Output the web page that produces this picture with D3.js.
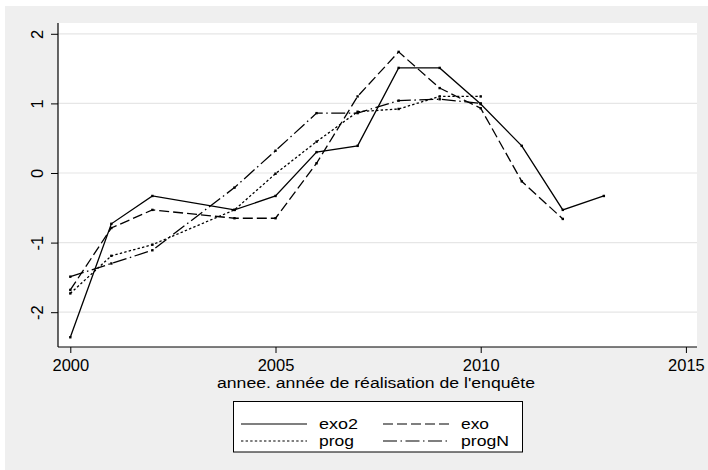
<!DOCTYPE html>
<html>
<head>
<meta charset="utf-8">
<script src="https://cdn.jsdelivr.net/npm/d3@7"></script>
<style>
    body { margin: 0; background: #fff; }
    text { font-family: "Liberation Sans", Arial, sans-serif; fill: #000; }
</style>
</head>
<body>
<div id="chart"></div>
<script>
// data (no value for 2003)
var years = [2000, 2001, 2002, 2004, 2005, 2006, 2007, 2008, 2009, 2010, 2011, 2012, 2013];
var exo2 = [-2.36, -0.73, -0.33, -0.53, -0.33, 0.30, 0.39, 1.51, 1.51, 0.99, 0.39, -0.53, -0.33];
var exo = [-1.68, -0.79, -0.53, -0.65, -0.65, 0.14, 1.10, 1.74, 1.22, 0.93, -0.12, -0.66, null];
var prog = [-1.73, -1.19, -1.03, -0.53, -0.01, 0.45, 0.88, 0.92, 1.10, 1.10, null, null, null];
var progN = [-1.49, -1.30, -1.11, -0.21, 0.32, 0.86, 0.86, 1.04, 1.06, 1.00, null, null, null];

var xTicks = [2000, 2005, 2010, 2015];
var yTicks = [-2, -1, 0, 1, 2];
var xTitle = "annee. année de réalisation de l'enquête";

var series = [
    {name: "exo2", values: exo2, dash: null},
    {name: "exo", values: exo, dash: "10,4"},
    {name: "prog", values: prog, dash: "2.4,2.2"},
    {name: "progN", values: progN, dash: "14,3.5,1.5,3.5"}
];

var W = 708, H = 470;
var plot = {left: 58, right: 697, top: 23, bottom: 347};

var svg = d3.select("#chart").append("svg")
    .attr("width", W)
    .attr("height", H);

// outer gray region
svg.append("rect")
    .attr("x", 5).attr("y", 6)
    .attr("width", W - 5).attr("height", H - 6)
    .attr("fill", "#efefef");

svg.append("rect")
    .attr("x", plot.left).attr("y", plot.top)
    .attr("width", plot.right - plot.left).attr("height", plot.bottom - plot.top)
    .attr("fill", "#fff");

var x = d3.scaleLinear().domain([1999.7, 2015.27]).range([plot.left, plot.right]);
var y = d3.scaleLinear().domain([-2.5, 2.155]).range([plot.bottom, plot.top]);

// gridlines
svg.append("g")
    .selectAll("line")
    .data(yTicks)
    .enter().append("line")
    .attr("x1", plot.left).attr("x2", plot.right)
    .attr("y1", function (d) { return y(d); })
    .attr("y2", function (d) { return y(d); })
    .attr("stroke", "#e6e6e6")
    .attr("stroke-width", 1.2);

// axes
var xAxis = svg.append("g")
    .attr("transform", "translate(0," + plot.bottom + ")")
    .call(d3.axisBottom(x).tickValues(xTicks).tickSize(6).tickPadding(6.5).tickFormat(d3.format("d")));
var yAxis = svg.append("g")
    .attr("transform", "translate(" + plot.left + ",0)")
    .call(d3.axisLeft(y).tickValues(yTicks).tickSize(7).tickPadding(0).tickFormat(function (d) { return d; }));

[xAxis, yAxis].forEach(function (a) {
    a.select(".domain").attr("stroke", "#000").attr("stroke-width", 1.2);
    a.selectAll(".tick line").attr("stroke", "#000");
    a.selectAll("text")
        .style("font-family", "'Liberation Sans', Arial, sans-serif")
        .style("font-size", "16.5px")
        .attr("fill", "#000");
});
xAxis.select(".domain").attr("d", "M" + plot.left + ",0H" + plot.right);
yAxis.select(".domain").attr("d", "M0," + plot.bottom + "V" + plot.top);

// rotated y labels
yAxis.selectAll(".tick text")
    .attr("x", null).attr("dy", null)
    .attr("text-anchor", "middle")
    .attr("transform", "translate(-15,0) rotate(-90)");

svg.append("text")
    .attr("x", 376)
    .attr("y", 387.7)
    .attr("text-anchor", "middle")
    .attr("textLength", 318)
    .attr("lengthAdjust", "spacingAndGlyphs")
    .style("font-size", "14px")
    .text(xTitle);

// lines
var line = d3.line()
    .defined(function (d) { return d.y !== null; })
    .x(function (d) { return x(d.x); })
    .y(function (d) { return y(d.y); });

series.forEach(function (s) {
    var pts = years.map(function (yr, i) { return {x: yr, y: s.values[i]}; });
    svg.append("path")
        .attr("d", line(pts))
        .attr("fill", "none")
        .attr("stroke", "#000")
        .attr("stroke-width", 1.3)
        .attr("stroke-dasharray", s.dash);
    svg.append("g").selectAll("rect")
        .data(pts.filter(function (d) { return d.y !== null; }))
        .enter().append("rect")
        .attr("x", function (d) { return x(d.x) - 1.2; })
        .attr("y", function (d) { return y(d.y) - 1.2; })
        .attr("width", 2.4).attr("height", 2.4)
        .attr("fill", "#000");
});

// legend
var leg = svg.append("g");
leg.append("rect")
    .attr("x", 233.5).attr("y", 401.5)
    .attr("width", 289).attr("height", 50.5)
    .attr("fill", "#fff")
    .attr("stroke", "#000")
    .attr("stroke-width", 1);

var legPos = [
    {lx: 241, ly: 424, tx: 319, tw: 39},
    {lx: 383, ly: 424, tx: 461, tw: 28},
    {lx: 241, ly: 441, tx: 319, tw: 35},
    {lx: 383, ly: 441, tx: 461, tw: 48}
];
series.forEach(function (s, i) {
    var p = legPos[i];
    leg.append("line")
        .attr("x1", p.lx).attr("x2", p.lx + 66)
        .attr("y1", p.ly).attr("y2", p.ly)
        .attr("stroke", "#000")
        .attr("stroke-width", 1.2)
        .attr("stroke-dasharray", s.dash);
    leg.append("text")
        .attr("x", p.tx)
        .attr("y", p.ly + 5)
        .attr("textLength", p.tw)
        .attr("lengthAdjust", "spacingAndGlyphs")
        .style("font-size", "14px")
        .text(s.name);
});
</script>
</body>
</html>
